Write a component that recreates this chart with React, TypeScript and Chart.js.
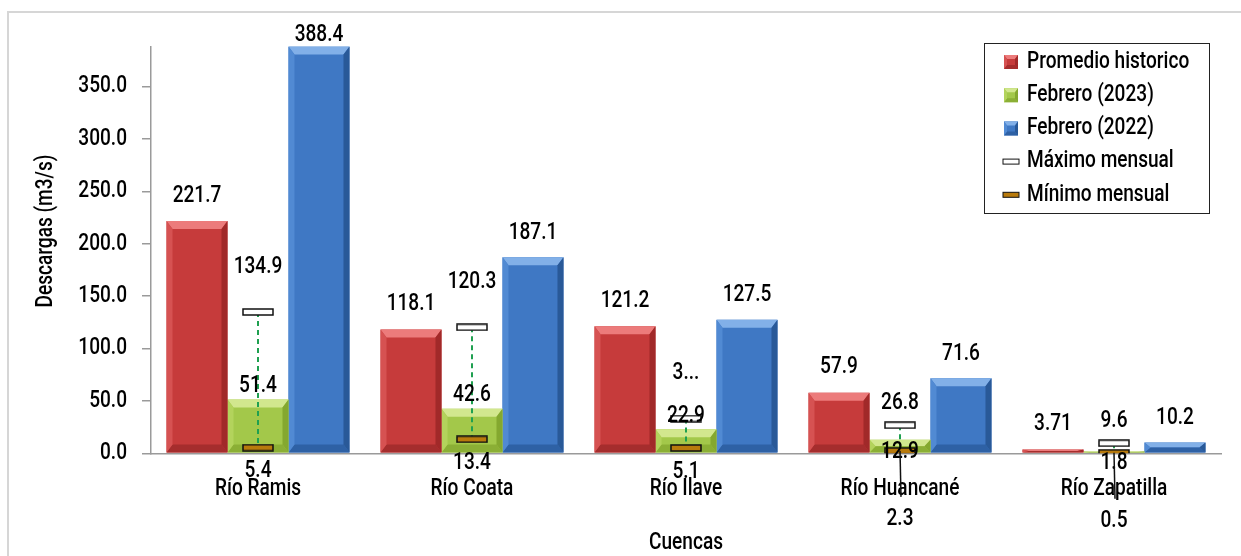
import React, { useEffect, useRef } from 'react';
import { Chart, registerables } from 'chart.js';

Chart.register(...registerables);

const categories = ['Río Ramis', 'Río Coata', 'Río Ilave', 'Río Huancané', 'Río Zapatilla'];
const promedioHistorico = [221.7, 118.1, 121.2, 57.9, 3.71];
const febrero2023 = [51.4, 42.6, 22.9, 12.9, 1.8];
const febrero2022 = [388.4, 187.1, 127.5, 71.6, 10.2];
const maximoMensual = [134.9, 120.3, 33.2, 26.8, 9.6];
const minimoMensual = [5.4, 13.4, 5.1, 2.3, 0.5];
const maximoLabels = ['134.9', '120.3', '3...', '26.8', '9.6'];
const yTicks = [0, 50, 100, 150, 200, 250, 300, 350];
const seriesNames = ['Promedio historico', 'Febrero (2023)', 'Febrero (2022)', 'Máximo mensual', 'Mínimo mensual'];
const xTitle = 'Cuencas';
const yTitle = 'Descargas (m3/s)';

const FONT = "500 23px Roboto, 'Noto Sans', sans-serif";
const TEXT_SCALE = 0.83;

const barStyles = [
  { base: '#C63B3B', top: '#EC7B7B', left: '#D65252', right: '#A12929', bottom: '#A52D2D' },
  { base: '#A3C84A', top: '#D2E78E', left: '#B3D35C', right: '#84A82F', bottom: '#8BAF35' },
  { base: '#3F78C4', top: '#82B0E8', left: '#518AD3', right: '#295998', bottom: '#2E61A5' },
];
const MAX_FILL = '#FFFFFF';
const MIN_FILL = '#B87A0C';

function makeMarker(fill: string) {
  const c = document.createElement('canvas');
  c.width = 32;
  c.height = 8;
  const x = c.getContext('2d')!;
  x.fillStyle = fill;
  x.fillRect(1, 1, 30, 6);
  x.strokeStyle = '#111';
  x.lineWidth = 1.5;
  x.strokeRect(1, 1, 30, 6);
  return c;
}

function poly(ctx: CanvasRenderingContext2D, pts: number[][], fill: string) {
  ctx.beginPath();
  ctx.moveTo(pts[0][0], pts[0][1]);
  for (let i = 1; i < pts.length; i++) ctx.lineTo(pts[i][0], pts[i][1]);
  ctx.closePath();
  ctx.fillStyle = fill;
  ctx.fill();
}

function bevel(ctx: CanvasRenderingContext2D, l: number, r: number, t: number, b: number, s: any, size = 8, side = 6) {
  const h = b - t;
  if (h <= 0.5) return;
  const d = Math.min(size, h / 2);
  const e = Math.min(side, (r - l) / 2);
  poly(ctx, [[l, t], [r, t], [r - e, t + d], [l + e, t + d]], s.top);
  poly(ctx, [[l, b], [r, b], [r - e, b - d], [l + e, b - d]], s.bottom);
  poly(ctx, [[l, t], [l + e, t + d], [l + e, b - d], [l, b]], s.left);
  poly(ctx, [[r, t], [r - e, t + d], [r - e, b - d], [r, b]], s.right);
}

function drawText(ctx: CanvasRenderingContext2D, text: string, x: number, y: number, align: CanvasTextAlign = 'center', rotate = 0) {
  ctx.save();
  ctx.translate(x, y);
  if (rotate) ctx.rotate(rotate);
  ctx.scale(TEXT_SCALE, 1);
  ctx.font = FONT;
  ctx.fillStyle = '#000';
  ctx.textAlign = align;
  ctx.textBaseline = 'middle';
  ctx.fillText(text, 0, 0);
  ctx.restore();
}

const isClose = (i: number) => febrero2023[i] - minimoMensual[i] < 12;

export default function App() {
  const ref = useRef<HTMLCanvasElement>(null);

  useEffect(() => {
    const canvas = ref.current!;
    const maxMarker = makeMarker(MAX_FILL);
    const minMarker = makeMarker(MIN_FILL);

    const bevelPlugin = {
      id: 'bevelAndWhisker',
      afterDatasetDraw(chart: any, args: any) {
        const idx = args.index;
        if (idx > 2) return;
        const ctx = chart.ctx;
        const meta = chart.getDatasetMeta(idx);
        ctx.save();
        meta.data.forEach((el: any) => {
          const l = el.x - el.width / 2;
          const r = el.x + el.width / 2;
          bevel(ctx, l, r, Math.min(el.y, el.base), Math.max(el.y, el.base), barStyles[idx]);
        });
        if (idx === 1) {
          const ys = chart.scales.y;
          ctx.strokeStyle = '#1FA050';
          ctx.lineWidth = 2;
          ctx.setLineDash([5, 4]);
          meta.data.forEach((el: any, i: number) => {
            ctx.beginPath();
            ctx.moveTo(el.x, ys.getPixelForValue(maximoMensual[i]));
            ctx.lineTo(el.x, ys.getPixelForValue(minimoMensual[i]));
            ctx.stroke();
          });
        }
        ctx.restore();
      },
    };

    const axisTextPlugin = {
      id: 'axisText',
      afterDraw(chart: any) {
        const ctx = chart.ctx;
        const ys = chart.scales.y;
        const xs = chart.scales.x;
        yTicks.forEach((v) => drawText(ctx, v.toFixed(1), 127, ys.getPixelForValue(v), 'right'));
        categories.forEach((c, i) => drawText(ctx, c, xs.getPixelForValue(i), 489));
        drawText(ctx, xTitle, (chart.chartArea.left + chart.chartArea.right) / 2, 543);
        drawText(ctx, yTitle, 46, 231, 'center', -Math.PI / 2);
      },
    };

    const labelPlugin = {
      id: 'labels',
      afterDraw(chart: any) {
        const ctx = chart.ctx;
        const m0 = chart.getDatasetMeta(0).data;
        const m1 = chart.getDatasetMeta(1).data;
        const m2 = chart.getDatasetMeta(2).data;
        const m3 = chart.getDatasetMeta(3).data;
        const m4 = chart.getDatasetMeta(4).data;
        categories.forEach((_, i) => {
          drawText(ctx, String(promedioHistorico[i]), m0[i].x, Math.max(35, m0[i].y - 25));
          drawText(ctx, String(febrero2022[i]), m2[i].x, Math.max(35, m2[i].y - 24));
          const close = isClose(i);
          drawText(ctx, String(febrero2023[i]), m1[i].x, close ? m1[i].y + 12 : m1[i].y - 13);
          drawText(ctx, maximoLabels[i], m3[i].x, close ? m3[i].y - 22 : m3[i].y - 45);
          const my = m4[i].y;
          if (close) {
            ctx.save();
            ctx.strokeStyle = '#111';
            ctx.lineWidth = 1.5;
            ctx.beginPath();
            ctx.moveTo(m4[i].x, my);
            ctx.lineTo(m4[i].x + 1, my + 46);
            ctx.stroke();
            ctx.restore();
            drawText(ctx, String(minimoMensual[i]), m4[i].x, my + 68);
          } else {
            drawText(ctx, String(minimoMensual[i]), m4[i].x, my + 24);
          }
        });
      },
    };

    const legendPlugin = {
      id: 'customLegend',
      afterDraw(chart: any) {
        const ctx = chart.ctx;
        ctx.save();
        const bx = 984.5, by = 43.5, bw = 225, bh = 170;
        ctx.fillStyle = '#fff';
        ctx.fillRect(bx, by, bw, bh);
        ctx.strokeStyle = '#222';
        ctx.lineWidth = 1;
        ctx.strokeRect(bx, by, bw, bh);
        seriesNames.forEach((name, i) => {
          const cy = 62 + i * 33.2;
          if (i < 3) {
            const s = barStyles[i];
            ctx.fillStyle = s.base;
            ctx.fillRect(1004, cy - 7, 14, 14);
            bevel(ctx, 1004, 1018, cy - 7, cy + 7, s, 4, 3);
          } else {
            ctx.fillStyle = i === 3 ? MAX_FILL : MIN_FILL;
            ctx.fillRect(1003, cy - 2.5, 16, 5);
            ctx.strokeStyle = '#111';
            ctx.lineWidth = 1;
            ctx.strokeRect(1003, cy - 2.5, 16, 5);
          }
          drawText(ctx, name, 1027, cy, 'left');
        });
        ctx.restore();
      },
    };

    const chart = new Chart(canvas, {
      type: 'bar',
      data: {
        labels: categories,
        datasets: [
          { label: seriesNames[0], data: promedioHistorico, backgroundColor: barStyles[0].base, order: 10 },
          { label: seriesNames[1], data: febrero2023, backgroundColor: barStyles[1].base, order: 10 },
          { label: seriesNames[2], data: febrero2022, backgroundColor: barStyles[2].base, order: 10 },
          {
            type: 'line', label: seriesNames[3], data: maximoMensual, showLine: false,
            pointStyle: maxMarker as any, pointRadius: 10, order: 0,
          } as any,
          {
            type: 'line', label: seriesNames[4], data: minimoMensual, showLine: false,
            pointStyle: minMarker as any, pointRadius: 10, order: 0,
          } as any,
        ],
      },
      options: {
        responsive: false,
        animation: false,
        devicePixelRatio: 1,
        layout: { padding: { top: 46.4, right: 20, left: 0, bottom: 0 } },
        datasets: { bar: { categoryPercentage: 0.855, barPercentage: 1, borderWidth: 0 } },
        plugins: { legend: { display: false }, tooltip: { enabled: false } },
        scales: {
          x: {
            afterFit: (s: any) => { s.height = 102.7; },
            grid: { display: false, drawTicks: false },
            border: { color: '#9a9a9a', width: 1.5 },
            ticks: { display: false },
            title: { display: false },
          },
          y: {
            min: 0,
            max: Math.max(...febrero2022),
            afterBuildTicks: (s: any) => { s.ticks = yTicks.map((v) => ({ value: v })); },
            afterFit: (s: any) => { s.width = 151; },
            ticks: { display: false },
            grid: { drawOnChartArea: false, drawTicks: true, tickLength: 9, color: '#9a9a9a', lineWidth: 1.5 },
            border: { color: '#9a9a9a', width: 1.5 },
            title: { display: false },
          },
        },
      } as any,
      plugins: [bevelPlugin, axisTextPlugin, labelPlugin, legendPlugin],
    });
    return () => chart.destroy();
  }, []);

  return (
    <div style={{ position: 'fixed', left: 0, top: 0, width: 1241, height: 556, overflow: 'hidden', background: '#fff' }}>
      <div style={{ position: 'absolute', left: 7, top: 11, width: 1400, height: 700, borderTop: '2px solid #d6d6d6', borderLeft: '2px solid #d6d6d6' }} />
      <canvas ref={ref} width={1241} height={556} style={{ position: 'absolute', left: 0, top: 0, width: 1241, height: 556 }} />
    </div>
  );
}
